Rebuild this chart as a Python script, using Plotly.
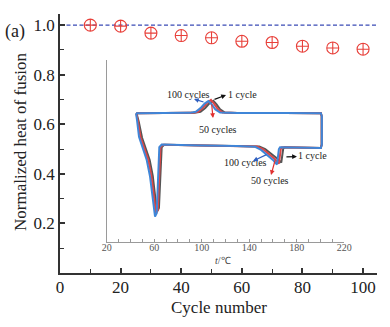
import plotly.graph_objects as go

# ---------------- main data ----------------
cycles = [10, 20, 30, 40, 50, 60, 70, 80, 90, 100]
norm_heat = [1.000, 0.996, 0.968, 0.958, 0.949, 0.935, 0.930, 0.915, 0.908, 0.903]
ref_level = 1.0
x_ticks = [0, 20, 40, 60, 80, 100]
y_ticks = [0.2, 0.4, 0.6, 0.8, 1.0]

# ---------------- inset DSC data (arbitrary heat-flow units) ----------------
T_100 = [44.7, 70, 90, 95, 99, 102.5, 105.6, 108.5, 111.5, 115.5, 130, 170, 200.4, 201.2, 201.2, 200.4,
         180, 168, 166.0, 165.0, 164.3, 163.4, 160, 155, 150, 145, 130, 100, 80, 67,
         66.3, 64.3, 63.0, 62.1, 60.7, 60.1, 58.4, 56.5, 53.7, 50.8, 47.2, 45.5, 44.7]
H_100 = [7.07, 7.08, 7.09, 7.15, 7.35, 7.60, 7.74, 7.55, 7.28, 7.11, 7.08, 7.08, 7.07, 6.90, 5.35, 5.16,
         5.18, 5.20, 5.20, 5.10, 4.70, 4.25, 4.50, 4.80, 5.05, 5.22, 5.27, 5.30, 5.32, 5.35,
         5.35, 5.20, 3.50, 1.56, 1.38, 1.74, 2.66, 3.58, 4.50, 5.05, 5.78, 6.70, 7.07]

T_50 = [44.9, 70, 92, 97, 101, 104.5, 107.8, 110.5, 113.5, 117.5, 130, 170, 200.4, 201.1, 201.1, 200.3,
        180, 170, 167.6, 166.6, 165.9, 165.0, 161.5, 156.5, 151.5, 146.5, 130, 100, 80, 68,
        67.3, 65.3, 64.0, 63.0, 61.5, 61.0, 59.5, 57.7, 55.0, 52.2, 48.5, 46.2, 44.9]
H_50 = [7.07, 7.08, 7.09, 7.15, 7.37, 7.63, 7.80, 7.58, 7.30, 7.11, 7.08, 7.08, 7.07, 6.90, 5.35, 5.16,
        5.18, 5.20, 5.20, 5.10, 4.70, 4.30, 4.55, 4.85, 5.10, 5.24, 5.27, 5.30, 5.32, 5.35,
        5.33, 5.20, 3.50, 1.75, 1.55, 1.85, 2.70, 3.60, 4.50, 5.05, 5.75, 6.65, 7.07]

T_1 = [45.1, 70, 94, 99, 103, 106.5, 109.8, 112.5, 115.5, 119.5, 130, 170, 200.4, 201.0, 201.0, 200.2,
       182, 172, 169.6, 168.6, 167.9, 167.0, 163.5, 158.5, 153.5, 148.5, 130, 100, 80, 69,
       68.3, 66.3, 65.0, 64.0, 62.3, 61.8, 60.5, 58.8, 56.2, 53.5, 49.8, 47.0, 45.1]
H_1 = [7.07, 7.08, 7.09, 7.15, 7.36, 7.62, 7.76, 7.56, 7.29, 7.11, 7.08, 7.08, 7.07, 6.90, 5.35, 5.16,
       5.18, 5.20, 5.20, 5.10, 4.70, 4.35, 4.58, 4.86, 5.10, 5.24, 5.27, 5.30, 5.32, 5.35,
       5.33, 5.20, 3.50, 1.85, 1.65, 1.95, 2.75, 3.62, 4.50, 5.05, 5.72, 6.60, 7.07]

inset_ticks = [20, 60, 100, 140, 180, 220]
inset_tick_text = ["20", "60", "100", "140", "180", "220"]
inset_minor = [30, 40, 50, 70, 80, 90, 110, 120, 130, 150, 160, 170, 190, 200, 210]

SERIF = "Liberation Serif, Times New Roman, serif"
RED = "#e8403a"
BLUE_DASH = "#3a4bb5"
AX = "#333333"
INSET_AX = "#9a9a9a"

# figure geometry (pixels)
W, H = 390, 327
ML, MR, MT, MB = 60, 13, 14, 54
PW, PH = W - ML - MR, H - MT - MB
X_RANGE = [0, 104.6]
Y_RANGE = [0, 1.045]
INSET_XR = [20, 220]
INSET_YR = [0, 10]
INSET_LEFT, INSET_RIGHT = 106.7, 344.2
INSET_TOP, INSET_BOT = 60, 241.7


def px(xp):
    return (xp - ML) / PW


def py(yp):
    return (H - MB - yp) / PH


X2_DOMAIN = [px(INSET_LEFT), px(INSET_RIGHT)]


def inset_t_to_main_x(v):
    # inset temperature -> main-axis x (via paper fraction)
    f = (v - INSET_XR[0]) / (INSET_XR[1] - INSET_XR[0])
    paper = X2_DOMAIN[0] + f * (X2_DOMAIN[1] - X2_DOMAIN[0])
    return X_RANGE[0] + paper * (X_RANGE[1] - X_RANGE[0])


def row_to_main_y(yp):
    return Y_RANGE[0] + py(yp) * (Y_RANGE[1] - Y_RANGE[0])


fig = go.Figure()

# inset curves (drawn first; blue on top)
fig.add_trace(go.Scatter(x=T_1, y=H_1, mode="lines", xaxis="x2", yaxis="y2",
                         line=dict(color="#555555", width=2), hoverinfo="skip", showlegend=False))
fig.add_trace(go.Scatter(x=T_50, y=H_50, mode="lines", xaxis="x2", yaxis="y2",
                         line=dict(color="#e04545", width=2), hoverinfo="skip", showlegend=False))
fig.add_trace(go.Scatter(x=T_100, y=H_100, mode="lines", xaxis="x2", yaxis="y2",
                         line=dict(color="#3f86d8", width=2), hoverinfo="skip", showlegend=False))

# inset tick labels as a text trace on the main axes
fig.add_trace(go.Scatter(x=[inset_t_to_main_x(t) for t in inset_ticks],
                         y=[row_to_main_y(248)] * len(inset_ticks), mode="text",
                         text=inset_tick_text, textposition="middle center",
                         hoverinfo="skip", showlegend=False,
                         textfont=dict(family=SERIF, size=10, color="#555555")))

# main markers
fig.add_trace(go.Scatter(x=cycles, y=norm_heat, mode="markers",
                         marker=dict(symbol="circle-cross-open", size=12, color=RED,
                                     line=dict(color=RED, width=1.1)),
                         showlegend=False))

fig.add_shape(type="line", xref="x domain", yref="y", x0=0, x1=1, y0=ref_level, y1=ref_level,
              line=dict(color=BLUE_DASH, width=1.2, dash="4px,2.5px"), layer="below")

ann = []
lab = dict(family=SERIF, size=10, color="#222222")


def txt(x, y, s):
    ann.append(dict(x=x, y=y, xref="x2", yref="y2", text=s, showarrow=False, font=lab,
                    xanchor="center", yanchor="middle"))


def arr(x_head, y_head, x_tail, y_tail, color):
    ann.append(dict(x=x_head, y=y_head, xref="x2", yref="y2", ax=x_tail, ay=y_tail,
                    axref="x2", ayref="y2", text="", showarrow=True, arrowhead=2,
                    arrowsize=0.8, arrowwidth=1.2, arrowcolor=color))


def ptxt(xp, yp, s, size, color="#222222", angle=0):
    ann.append(dict(x=px(xp), y=py(yp), xref="paper", yref="paper", text=s, showarrow=False,
                    xanchor="center", yanchor="middle", textangle=angle,
                    font=dict(family=SERIF, size=size, color=color)))


# upper labels
txt(88.8, 8.11, "100 cycles")
txt(134.6, 8.11, "1 cycle")
txt(114.1, 6.19, "50 cycles")
arr(93.5, 7.85, 102.8, 7.66, "#3060c0")
arr(120.5, 8.07, 109.5, 7.80, "#111111")
arr(109.5, 6.81, 108.3, 7.63, "#e03030")
# lower labels
txt(136.9, 4.35, "100 cycles")
txt(193.3, 4.72, "1 cycle")
txt(157.5, 3.36, "50 cycles")
arr(143.2, 4.44, 155.8, 4.83, "#3060c0")
arr(180.2, 4.69, 170.1, 4.66, "#111111")
arr(158.4, 3.67, 162.1, 4.55, "#e03030")

# Endo
ann.append(dict(x=15.8, y=6.07, xref="x2", yref="y2", text="Endo", textangle=-90, showarrow=False,
                xanchor="center", yanchor="middle",
                font=dict(family=SERIF, size=10, color="#444444")))
ann.append(dict(x=14.4, y=3.9, xref="x2", yref="y2", ax=14.4, ay=5.3, axref="x2", ayref="y2",
                text="", showarrow=True, arrowhead=2, arrowsize=1, arrowwidth=1.1, arrowcolor="#222222"))
# inset x title, panel label, axis titles
ptxt(222.7, 260, "<i>t</i>/℃", 10, "#444444")
ptxt(14.5, 32, "(a)", 18)
ptxt(218.5, 307.5, "Cycle number", 17)
ptxt(20.5, 142.5, "Normalized heat of fusion", 17, angle=-90)

fig.update_layout(
    width=W, height=H,
    margin=dict(l=ML, r=MR, t=MT, b=MB, autoexpand=False),
    paper_bgcolor="white", plot_bgcolor="white",
    font=dict(family=SERIF, size=17, color="#222222"),
    annotations=ann,
    xaxis=dict(range=X_RANGE, tickvals=x_ticks, ticks="inside", ticklen=5, tickwidth=1.5,
               tickcolor=AX, showline=True, linecolor=AX, linewidth=1.5, showgrid=False,
               zeroline=False, mirror=False, automargin=False, ticklabelstandoff=-2,
               minor=dict(tickvals=[10, 30, 50, 70, 90], ticks="inside", ticklen=4,
                          tickwidth=1.3, tickcolor=AX)),
    yaxis=dict(range=Y_RANGE, tickvals=y_ticks, tickformat=".1f", ticks="inside", ticklen=5,
               tickwidth=1.5, tickcolor=AX, showline=True, linecolor=AX, linewidth=1.5,
               showgrid=False, zeroline=False, automargin=False,
               minor=dict(tickvals=[0.1, 0.3, 0.5, 0.7, 0.9], ticks="inside", ticklen=4,
                          tickwidth=1.3, tickcolor=AX)),
    xaxis2=dict(domain=X2_DOMAIN, anchor="y2", range=INSET_XR, tickvals=inset_ticks,
                showticklabels=False, automargin=False,
                ticks="inside", ticklen=3, tickwidth=1, tickcolor=INSET_AX, showline=True,
                linecolor=INSET_AX, linewidth=1, showgrid=False, zeroline=False,
                minor=dict(tickvals=inset_minor, ticks="inside", ticklen=2.5, tickwidth=1,
                           tickcolor=INSET_AX)),
    yaxis2=dict(domain=[py(INSET_BOT), py(INSET_TOP)], anchor="x2", range=INSET_YR, showline=True,
                linecolor=INSET_AX, linewidth=1, showgrid=False, zeroline=False,
                showticklabels=False, ticks="", automargin=False),
)

fig.write_html("out.html")
